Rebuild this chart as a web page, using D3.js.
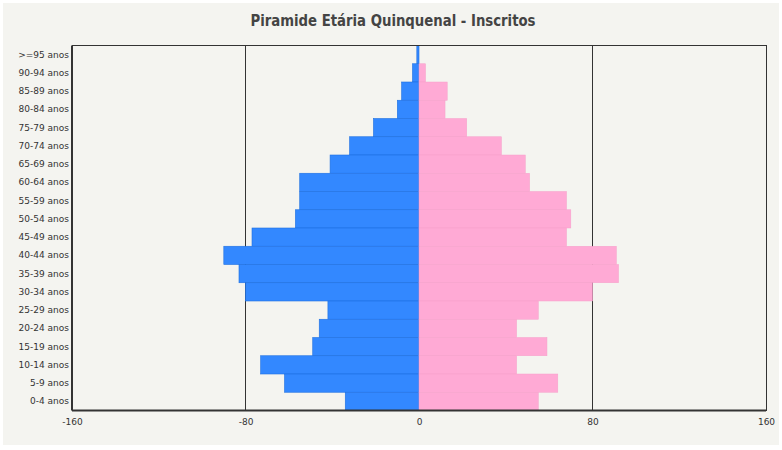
<!DOCTYPE html>
<html>
<head>
<meta charset="utf-8">
<script src="https://cdn.jsdelivr.net/npm/d3@7"></script>
<style>
  html, body { margin: 0; padding: 0; background: #ffffff; }
  svg { display: block; }
</style>
</head>
<body>
<script>
const categories = [">=95 anos","90-94 anos","85-89 anos","80-84 anos","75-79 anos","70-74 anos","65-69 anos","60-64 anos","55-59 anos","50-54 anos","45-49 anos","40-44 anos","35-39 anos","30-34 anos","25-29 anos","20-24 anos","15-19 anos","10-14 anos","5-9 anos","0-4 anos"];
const male   = [-1, -3, -8, -10, -21, -32, -41, -55, -55, -57, -77, -90, -83, -80, -42, -46, -49, -73, -62, -34];
const female = [0, 3, 13, 12, 22, 38, 49, 51, 68, 70, 68, 91, 92, 80, 55, 45, 59, 45, 64, 55];
const xTicks = [-160, -80, 0, 80, 160];
const gridTicks = [-80, 80];
const title = "Piramide Etária Quinquenal - Inscritos";

const W = 782, H = 450;
const m = { left: 72, right: 16, top: 45.5, bottom: 39.5 };

const svg = d3.select("body").append("svg").attr("width", W).attr("height", H);

svg.append("rect").attr("x", 3).attr("y", 3).attr("width", W - 6).attr("height", H - 8)
  .attr("fill", "#f4f4f0");

const x = d3.scaleLinear().domain([-160, 160]).range([m.left, W - m.right]);
const y = d3.scaleBand().domain(categories).range([m.top, H - m.bottom]).padding(0);

svg.append("text").attr("x", 393).attr("y", 26)
  .attr("text-anchor", "middle")
  .attr("font-family", "'Liberation Sans Narrow','DejaVu Sans Condensed','Open Sans',sans-serif")
  .attr("font-weight", "bold")
  .attr("font-size", 16.5)
  .attr("fill", "#444")
  .attr("textLength", 285)
  .attr("lengthAdjust", "spacingAndGlyphs")
  .text(title);

// grid lines
svg.append("g").selectAll("line").data(gridTicks).join("line")
  .attr("x1", d => x(d)).attr("x2", d => x(d))
  .attr("y1", m.top).attr("y2", H - m.bottom)
  .attr("stroke", "#333").attr("stroke-width", 1)
  .attr("shape-rendering", "crispEdges");

// male bars
svg.append("g").selectAll("rect").data(categories).join("rect")
  .attr("x", (d, i) => x(male[i]))
  .attr("y", d => y(d))
  .attr("width", (d, i) => x(0) - x(male[i]))
  .attr("height", y.bandwidth())
  .attr("fill", "#3388ff")
  .attr("stroke", "#1f70e0").attr("stroke-width", 0.6);

// female bars
svg.append("g").selectAll("rect").data(categories).join("rect")
  .attr("x", x(0))
  .attr("y", d => y(d))
  .attr("width", (d, i) => x(female[i]) - x(0))
  .attr("height", y.bandwidth())
  .attr("fill", "#ffaad5")
  .attr("stroke", "#f59fca").attr("stroke-width", 0.5);

// frame
const fx0 = x(-160), fx1 = x(160), fy0 = m.top, fy1 = H - m.bottom;
svg.append("rect").attr("x", fx0).attr("y", fy0)
  .attr("width", fx1 - fx0).attr("height", fy1 - fy0)
  .attr("fill", "none").attr("stroke", "#333").attr("stroke-width", 1)
  .attr("shape-rendering", "crispEdges");
svg.append("line").attr("x1", fx0).attr("x2", fx1).attr("y1", fy1).attr("y2", fy1)
  .attr("stroke", "#333").attr("stroke-width", 2);
svg.append("line").attr("x1", fx0).attr("x2", fx0).attr("y1", fy0).attr("y2", fy1)
  .attr("stroke", "#333").attr("stroke-width", 2);

// x axis labels
const xAxis = d3.axisBottom(x).tickValues(xTicks).tickSize(0).tickPadding(8)
  .tickFormat(d => String(d));
const gx = svg.append("g").attr("transform", `translate(0,${fy1})`).call(xAxis);
gx.select(".domain").remove();
gx.selectAll("text").attr("font-family", "'DejaVu Sans',sans-serif").attr("font-size", 9).attr("fill", "#333");

// y axis labels
const yAxis = d3.axisLeft(y).tickSize(0).tickPadding(3);
const gy = svg.append("g").attr("transform", `translate(${fx0},0)`).call(yAxis);
gy.select(".domain").remove();
gy.selectAll("text").attr("font-family", "'DejaVu Sans',sans-serif").attr("font-size", 9).attr("fill", "#333");
</script>
</body>
</html>
